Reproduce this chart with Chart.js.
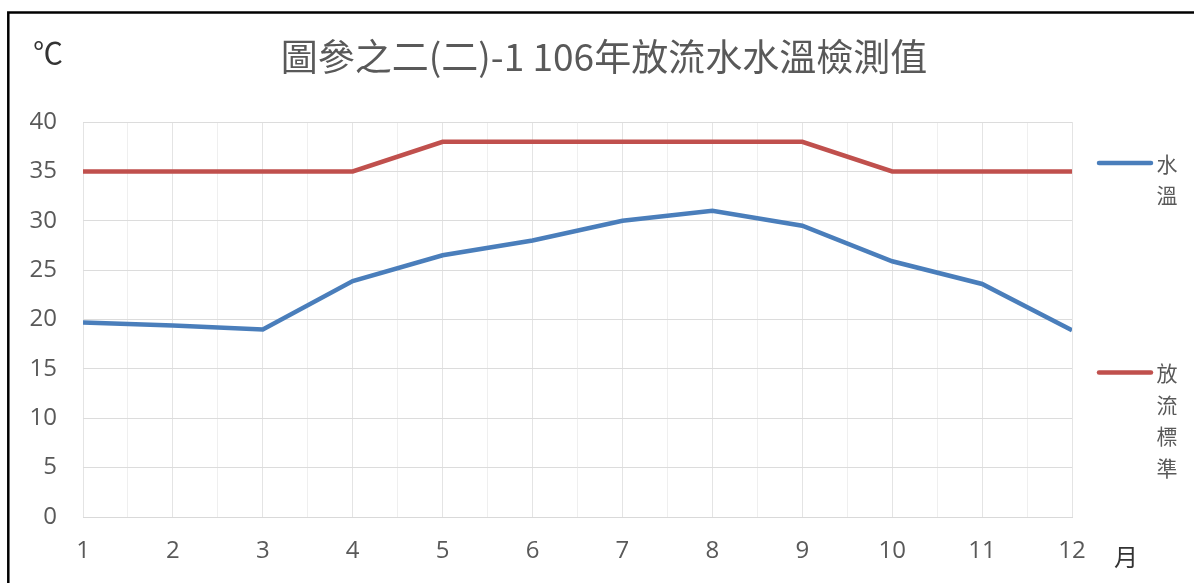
<!DOCTYPE html>
<html>
<head>
<meta charset="utf-8">
<script src="https://cdn.jsdelivr.net/npm/chart.js@4/dist/chart.umd.min.js"></script>
<style>
html,body{margin:0;padding:0;background:#fff;}
#wrap{width:1194px;height:583px;position:relative;}
</style>
</head>
<body>
<div id="wrap"><canvas id="c" width="1194" height="583"></canvas></div>
<script>
const titleText = '圖參之二(二)-1 106年放流水水溫檢測值';
const months = [1,2,3,4,5,6,7,8,9,10,11,12];
const waterTemp = [19.7,19.4,19.0,23.9,26.5,28.0,30.0,31.0,29.5,25.9,23.6,18.9];
const dischargeStd = [35,35,35,35,38,38,38,38,38,35,35,35];
const seriesNames = ['水溫','放流標準'];
const seriesColors = ['#4a7ebb','#c0504d'];
const yUnit = '℃';
const xUnit = '月';

const cjk = '"Noto Sans CJK TC", "Noto Sans", sans-serif';
const latin = '"Open Sans", "Noto Sans CJK TC", sans-serif';

const decor = {
  id:'decor',
  afterDraw(chart){
    const ctx = chart.ctx;
    ctx.save();
    // frame
    ctx.strokeStyle = '#000';
    ctx.lineWidth = 2.5;
    ctx.beginPath();
    ctx.moveTo(8.3, 583);
    ctx.lineTo(8.3, 12.5);
    ctx.lineTo(1194, 12.5);
    ctx.stroke();
    // units
    ctx.fillStyle = '#333';
    ctx.textAlign = 'center';
    ctx.textBaseline = 'middle';
    ctx.font = '30px ' + cjk;
    ctx.fillText(yUnit, 48, 53);
    ctx.font = '24px ' + cjk;
    ctx.fillText(xUnit, 1126, 557);
    // legend
    const entries = [{y:163}, {y:372.5}];
    entries.forEach((e, i) => {
      ctx.strokeStyle = seriesColors[i];
      ctx.lineWidth = 4.5;
      ctx.lineCap = 'round';
      ctx.beginPath();
      ctx.moveTo(1099, e.y);
      ctx.lineTo(1151, e.y);
      ctx.stroke();
      ctx.fillStyle = '#595959';
      ctx.font = '21px ' + cjk;
      const chars = Array.from(seriesNames[i]);
      chars.forEach((ch, k) => ctx.fillText(ch, 1167, e.y + 1 + k * 31.5));
    });
    ctx.restore();
  }
};

new Chart(document.getElementById('c'), {
  type:'line',
  data:{
    datasets:[
      {label:seriesNames[0], data:months.map((m,i)=>({x:m,y:waterTemp[i]})), borderColor:seriesColors[0], backgroundColor:seriesColors[0], borderWidth:4.5, pointRadius:0, tension:0, yAxisID:'y'},
      {label:seriesNames[1], data:months.map((m,i)=>({x:m,y:dischargeStd[i]})), borderColor:seriesColors[1], backgroundColor:seriesColors[1], borderWidth:4.5, pointRadius:0, tension:0, yAxisID:'y'}
    ]
  },
  options:{
    responsive:false,
    animation:false,
    layout:{padding:{left:14,right:0,top:0,bottom:0}},
    plugins:{
      legend:{display:false},
      tooltip:{enabled:false},
      title:{display:true, text:titleText, color:'#595959', font:{family:cjk, size:37, weight:'normal', lineHeight:1.2}, padding:{top:34.8, bottom:42.8}}
    },
    scales:{
      x:{
        type:'linear', min:1, max:12,
        ticks:{stepSize:0.5, autoSkip:false, maxRotation:0, color:'#595959', font:{family:latin, size:24}, padding:20,
          callback:(v)=>Number.isInteger(v)?String(v):''},
        grid:{drawTicks:false, color:(c)=>Number.isInteger(c.tick && c.tick.value)?'#e4e4e4':'#efefef', lineWidth:1},
        border:{display:true, color:'#d9d9d9', width:1},
        afterFit:(s)=>{s.height = 66;}
      },
      y:{
        min:0, max:40,
        ticks:{stepSize:5, color:'#595959', font:{family:latin, size:24}, padding:26},
        grid:{drawTicks:false, color:'#dcdcdc', lineWidth:1},
        border:{display:false},
        afterFit:(s)=>{s.width = 69;}
      },
      yr:{
        position:'right', display:true, min:0, max:40,
        ticks:{display:false}, grid:{display:false, drawTicks:false}, border:{display:false},
        afterFit:(s)=>{s.width = 122;}
      }
    }
  },
  plugins:[decor]
});
</script>
</body>
</html>
